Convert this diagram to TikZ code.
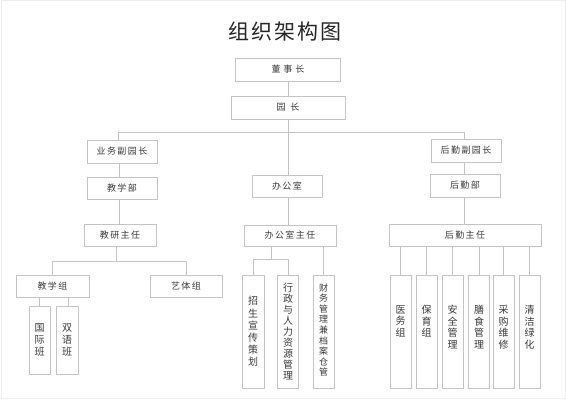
\documentclass[tikz,border=0pt]{standalone}
\usepackage{fontspec}
\newfontfamily\cjk{Noto Sans CJK SC}
\newcommand\cgap{\hspace{1.4pt}}
\definecolor{boxline}{HTML}{C4C4C4}
\definecolor{txt}{HTML}{3A3A3A}
\tikzset{
  hbox/.style={draw=boxline, line width=0.9pt, fill=white, inner sep=0pt, font=\cjk\fontsize{9}{10}\selectfont, text=txt},
  vbox/.style={draw=boxline, line width=0.9pt, fill=white, inner sep=0pt, minimum width=21pt, minimum height=113pt},
  vtext/.style={inner sep=0pt, align=center, font=\cjk\fontsize{10}{11.6}\selectfont, text=txt},
  conn/.style={draw=boxline, line width=0.9pt},
}
\begin{document}
\begin{tikzpicture}[x=1pt, y=-1pt]
\useasboundingbox (0,0) rectangle (566,400);
\draw[black!7, line width=1pt] (1,0.5) rectangle (565,398);
\node[font=\cjk\fontsize{21}{24}\selectfont, text=black!85] (title) at (285,32) {组\hspace{2pt}织\hspace{2pt}架\hspace{2pt}构\hspace{2pt}图};

% top
\node[hbox, minimum width=105pt, minimum height=23pt] (dsz) at (288,69.5) {董\hspace{3pt}事\hspace{3pt}长};
\node[hbox, minimum width=114pt, minimum height=23pt] (yz) at (288,107.5) {园\hspace{5pt}长};

% second level
\node[hbox, minimum width=70pt, minimum height=23pt] (ywf) at (122,151.5) {业\cgap 务\cgap 副\cgap 园\cgap 长};
\node[hbox, minimum width=70pt, minimum height=22pt] (bgs) at (287,186) {办\cgap 公\cgap 室};
\node[hbox, minimum width=70pt, minimum height=23pt] (hqf) at (466,150.5) {后\cgap 勤\cgap 副\cgap 园\cgap 长};

\coordinate (busL) at (118,132);
\coordinate (busR) at (464,132);
\coordinate (busM) at (288,132);

% left branch
\node[hbox, minimum width=70pt, minimum height=22pt] (jxb) at (122,188) {教\cgap 学\cgap 部};
\node[hbox, minimum width=72pt, minimum height=22pt] (jyzr) at (120,235) {教\cgap 研\cgap 主\cgap 任};
\node[hbox, minimum width=73pt, minimum height=22pt] (jxz) at (52.5,286) {教\cgap 学\cgap 组};
\node[hbox, minimum width=72pt, minimum height=22pt] (ytz) at (186,286) {艺\cgap 体\cgap 组};
\node[vbox, minimum height=68pt] (gjb) at (39.5,340) {};
\node[vtext] (gjbt) at (gjb.center) {国\\际\\班};
\node[vbox, minimum height=68pt, minimum width=22pt] (syb) at (67,340) {};
\node[vtext] (sybt) at (syb.center) {双\\语\\班};

% middle branch
\node[hbox, minimum width=92pt, minimum height=21pt] (bgszr) at (290,235.5) {办\cgap 公\cgap 室\cgap 主\cgap 任};
\node[vbox, minimum width=22pt] (zs) at (253,331.5) {};
\node[vtext, font=\cjk\fontsize{10}{12.2}\selectfont] (zst) at (zs.center) {招\\生\\宣\\传\\策\\划};
\node[vbox] (xz) at (288,331.5) {};
\node[vtext, font=\cjk\fontsize{10}{11.1}\selectfont] (xzt) at (xz.center) {行\\政\\与\\人\\力\\资\\源\\管\\理};
\node[vbox] (cw) at (323.5,331.5) {};
\node[vtext, font=\cjk\fontsize{9}{10.6}\selectfont] (cwt) at (323.5,330) {财\\务\\管\\理\\兼\\档\\案\\仓\\管};

% right branch
\node[hbox, minimum width=70pt, minimum height=23pt] (hqb) at (465,185.5) {后\cgap 勤\cgap 部};
\node[hbox, minimum width=152pt, minimum height=22pt] (hqzr) at (465,235) {后\cgap 勤\cgap 主\cgap 任};
\node[vbox] (h1) at (400.5,331.5) {};
\node[vbox] (h2) at (426.5,331.5) {};
\node[vbox] (h3) at (452.5,331.5) {};
\node[vbox] (h4) at (479,331.5) {};
\node[vbox] (h5) at (503.5,331.5) {};
\node[vbox] (h6) at (529.5,331.5) {};
\node[vtext, anchor=north] (h1t) at (400.5,305) {医\\务\\组};
\node[vtext, anchor=north] (h2t) at (426.5,305) {保\\育\\组};
\node[vtext, anchor=north] (h3t) at (452.5,305) {安\\全\\管\\理};
\node[vtext, anchor=north] (h4t) at (479,305) {膳\\食\\管\\理};
\node[vtext, anchor=north] (h5t) at (503.5,305) {采\\购\\维\\修};
\node[vtext, anchor=north] (h6t) at (529.5,305) {清\\洁\\绿\\化};

% connectors top
\draw[conn] (dsz.south) -- (yz.north);
\draw[conn] (yz.south) -- (busM);
\draw[conn] (busL) -- (busR);
\draw[conn] (busL) -- (busL |- ywf.north);
\draw[conn] (busR) -- (busR |- hqf.north);
\draw[conn] (busM) -- (busM |- bgs.north);

% left connectors
\coordinate (lx) at (119,0);
\draw[conn] (lx |- ywf.south) -- (lx |- jxb.north);
\draw[conn] (lx |- jxb.south) -- (lx |- jyzr.north);
\coordinate (lb) at (116,261);
\draw[conn] (lb |- jyzr.south) -- (lb);
\draw[conn] (jxz.north) |- (ytz.north |- lb) -- (ytz.north);
\coordinate (c1) at (39,0);
\coordinate (c2) at (68,0);
\draw[conn] (c1 |- jxz.south) -- (c1 |- gjb.north);
\draw[conn] (c2 |- jxz.south) -- (c2 |- syb.north);

% middle connectors
\draw[conn] (busM |- bgs.south) -- (busM |- bgszr.north);
\coordinate (mb) at (271,259);
\draw[conn] (mb |- bgszr.south) -- (mb);
\draw[conn] (zs.north) |- (xz.north |- mb) -- (xz.north);
\draw[conn] (cw.north |- bgszr.south) -- (cw.north);

% right connectors
\coordinate (rx) at (464,0);
\draw[conn] (rx |- hqf.south) -- (rx |- hqb.north);
\draw[conn] (rx |- hqb.south) -- (rx |- hqzr.north);
\foreach \n in {h1,h2,h3,h4,h5,h6}{
  \draw[conn] (\n.north |- hqzr.south) -- (\n.north);
}
\end{tikzpicture}
\end{document}
